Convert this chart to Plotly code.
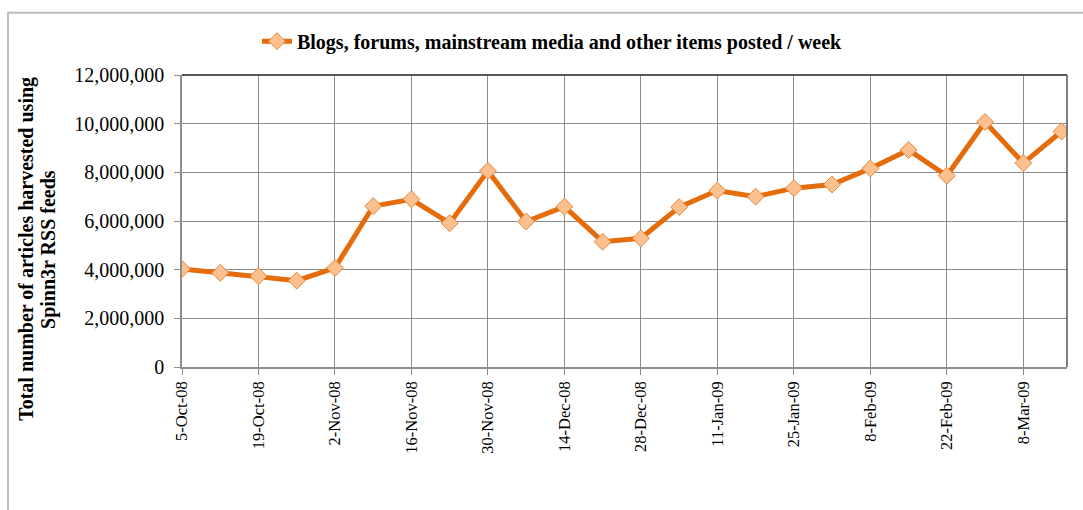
import plotly.graph_objects as go

weeks = ["2008-10-05", "2008-10-12", "2008-10-19", "2008-10-26", "2008-11-02", "2008-11-09",
         "2008-11-16", "2008-11-23", "2008-11-30", "2008-12-07", "2008-12-14", "2008-12-21",
         "2008-12-28", "2009-01-04", "2009-01-11", "2009-01-18", "2009-01-25", "2009-02-01",
         "2009-02-08", "2009-02-15", "2009-02-22", "2009-03-01", "2009-03-08", "2009-03-15"]
items_posted = [4030000, 3870000, 3730000, 3550000, 4070000, 6610000,
                6890000, 5910000, 8060000, 5980000, 6590000, 5150000,
                5290000, 6570000, 7250000, 7000000, 7350000, 7500000,
                8160000, 8920000, 7860000, 10070000, 8380000, 9680000]
tick_dates = ["2008-10-05", "2008-10-19", "2008-11-02", "2008-11-16", "2008-11-30", "2008-12-14",
              "2008-12-28", "2009-01-11", "2009-01-25", "2009-02-08", "2009-02-22", "2009-03-08"]
tick_labels = ["5-Oct-08", "19-Oct-08", "2-Nov-08", "16-Nov-08", "30-Nov-08", "14-Dec-08",
               "28-Dec-08", "11-Jan-09", "25-Jan-09", "8-Feb-09", "22-Feb-09", "8-Mar-09"]
y_ticks = [0, 2000000, 4000000, 6000000, 8000000, 10000000, 12000000]
y_labels = ["0", "2,000,000", "4,000,000", "6,000,000", "8,000,000", "10,000,000", "12,000,000"]
series_name = "Blogs, forums, mainstream media and other items posted / week"
y_title_lines = ["Total number of articles harvested using", "Spinn3r RSS feeds"]

FONT = "Liberation Serif, Times New Roman, serif"
GRID = "#8c8c8c"

fig = go.Figure()
fig.add_trace(go.Scatter(
    x=weeks, y=items_posted, mode="lines+markers", name=series_name,
    line=dict(color="#E46C0A", width=5),
    marker=dict(symbol="diamond", size=13, color="#FBC08E",
                line=dict(color="#E3873A", width=1)),
))

title_font = dict(family=FONT, size=20, color="black", weight="bold")

fig.update_layout(
    width=1083, height=510,
    margin=dict(l=182, r=16, t=75, b=143, autoexpand=False),
    paper_bgcolor="white", plot_bgcolor="white",
    font=dict(family=FONT, color="black"),
    showlegend=True,
    legend=dict(orientation="h", x=0.4186, xanchor="center", y=1.116, yanchor="middle",
                font=title_font, bgcolor="rgba(0,0,0,0)", itemwidth=30),
    xaxis=dict(
        type="date", range=["2008-10-05", "2009-03-16"],
        tickmode="array", tickvals=tick_dates, ticktext=tick_labels,
        tickangle=-90, tickfont=dict(family=FONT, size=16.5, color="black"),
        showgrid=True, gridcolor=GRID, gridwidth=1,
        showline=True, linecolor=GRID, linewidth=1.5,
        ticks="outside", ticklen=6, tickcolor=GRID, zeroline=False,
    ),
    yaxis=dict(
        range=[0, 12000000], tickmode="array", tickvals=y_ticks, ticktext=y_labels,
        tickfont=dict(family=FONT, size=20, color="black"),
        showgrid=True, gridcolor=GRID, gridwidth=1,
        showline=True, linecolor=GRID, linewidth=1.5,
        ticks="outside", ticklen=6, tickcolor=GRID, ticklabelstandoff=6, zeroline=False,
    ),
    annotations=[
        dict(text=y_title_lines[0], textangle=-90, xref="paper", yref="paper",
             x=-0.1765, y=0.404, xanchor="center", yanchor="middle", showarrow=False,
             font=title_font),
        dict(text=y_title_lines[1], textangle=-90, xref="paper", yref="paper",
             x=-0.1515, y=0.404, xanchor="center", yanchor="middle", showarrow=False,
             font=title_font),
    ],
    shapes=[
        dict(type="line", xref="paper", yref="paper", x0=0, x1=1, y0=1, y1=1,
             line=dict(color="#222222", width=1.5)),
        dict(type="line", xref="paper", yref="paper", x0=1, x1=1, y0=0, y1=1,
             line=dict(color="#555555", width=1.5)),
        dict(type="rect", xref="paper", yref="paper", x0=-0.1966, x1=1.05, y0=-0.6, y1=1.2134,
             line=dict(color="#bdbdbd", width=2), layer="below"),
    ],
)

fig.write_html("out.html")
